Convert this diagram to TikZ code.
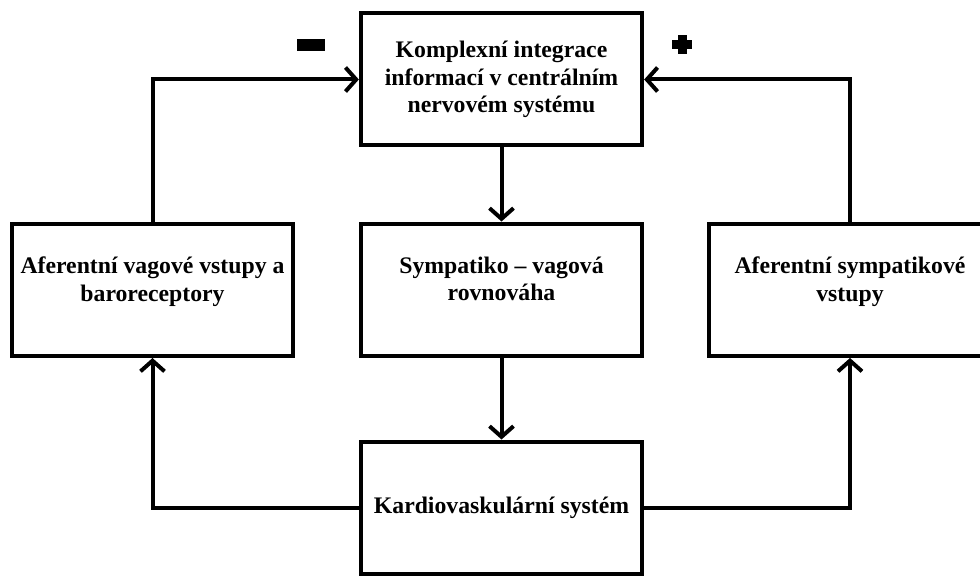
\documentclass[tikz,border=0pt]{standalone}
\usepackage{fontspec}
\setmainfont{Liberation Serif}
\usetikzlibrary{arrows.meta}
\begin{document}
\begin{tikzpicture}[x=0.75pt,y=-0.75pt,
  block/.style={draw=black,line width=3pt,minimum width=211pt,minimum height=99pt,
    inner sep=0pt,align=center,font=\fontsize{17.8}{20.4}\selectfont\bfseries},
  link/.style={line width=3pt,-{Straight Barb[length=8pt,width=18pt,line width=3pt]}}]
\useasboundingbox (0,0) rectangle (980,577);
%boxes
\node[block] (cns) at (501.5,79.5) {Komplexní integrace\\informací v centrálním\\nervovém systému};
\node[block] (balance) at (501.5,289.5) {Sympatiko -- vagová\\rovnováha\\[-4pt]};
\node[block] (vagal) at (152.5,290) {Aferentní vagové vstupy a\\baroreceptory\\[-4pt]};
\node[block] (sympat) at (850,290) {Aferentní sympatikové\\vstupy\\[-4pt]};
\node[block] (cardio) at (501.5,507.5) {Kardiovaskulární systém};
%arrows
\draw[link] (cns) -- (balance);
\draw[link] (balance) -- (cardio);
\draw[link] (cardio.west) -| (vagal.south);
\draw[link] (cardio.east) -| (sympat.south);
\draw[link] (vagal.north) |- (cns.west);
\draw[link] (sympat.north) |- (cns.east);
%signs
\fill (297,39) rectangle (325,51);
\fill (677.5,35) rectangle (686.5,54);
\fill (672,40) rectangle (692,49);
\end{tikzpicture}
\end{document}
